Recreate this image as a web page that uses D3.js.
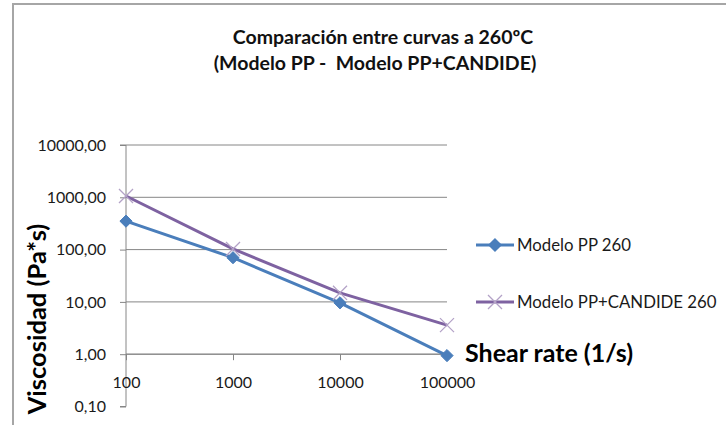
<!DOCTYPE html>
<html>
<head>
<meta charset="utf-8">
<script src="https://cdn.jsdelivr.net/npm/d3@7"></script>
<style>
  html, body { margin: 0; padding: 0; background: #fff; }
  svg { display: block; font-family: Lato, "Open Sans", sans-serif; }
</style>
</head>
<body>
<svg id="chart" width="726" height="425"></svg>
<script>
// Shear rate categories (1/s)
const shearRates = ["100", "1000", "10000", "100000"];
// Viscosity (Pa*s) for each model at 260 ºC
const ppValues = [350, 70, 9.6, 0.94];
const candideValues = [1060, 103, 14.9, 3.6];
// Log-scale tick values for the viscosity axis
const yTicks = [0.1, 1, 10, 100, 1000, 10000];
const seriesNames = ["Modelo PP 260", "Modelo PP+CANDIDE 260"];

const svg = d3.select("#chart");
const W = 726, H = 425;

// outer chart frame
svg.append("path")
  .attr("d", `M13,${H} V4 H${W}`)
  .attr("fill", "none").attr("stroke", "#a6a6a6").attr("stroke-width", 2);

const plot = { left: 126, right: 447, top: 145, bottom: 406.5 };

const x = d3.scalePoint().domain(shearRates).range([plot.left, plot.right]);
const y = d3.scaleLog().domain([0.1, 10000]).range([plot.bottom, plot.top]);

const fmt = v => d3.format(".2f")(v).replace(".", ",");

// horizontal gridlines
svg.append("g").selectAll("line").data(yTicks.filter(v => v > 0.1)).join("line")
  .attr("x1", plot.left).attr("x2", plot.right)
  .attr("y1", d => y(d)).attr("y2", d => y(d))
  .attr("stroke", "#868686").attr("stroke-width", 1);

// y axis
const yAxis = d3.axisLeft(y).tickValues(yTicks).tickFormat(fmt).tickSize(6).tickPadding(14);
const gy = svg.append("g").attr("transform", `translate(${plot.left},0)`).call(yAxis);
gy.select(".domain").attr("stroke", "#868686").attr("d", `M-6,${plot.bottom}H0V${plot.top}H-6`);
gy.selectAll(".tick line").attr("stroke", "#868686");
gy.selectAll(".tick text").attr("fill", "#1a1a1a").style("font-size", "16px")
  .style("font-family", "Lato, sans-serif");

// x axis crossing at viscosity 1
const xAxis = d3.axisBottom(x).tickSize(6).tickPadding(16);
const gx = svg.append("g").attr("transform", `translate(0,${y(1)})`).call(xAxis);
gx.select(".domain").attr("stroke", "#868686").attr("d", `M${plot.left},0H${plot.right}`);
gx.selectAll(".tick line").attr("stroke", "#868686");
gx.selectAll(".tick text").attr("fill", "#1a1a1a").style("font-size", "16px")
  .style("font-family", "Lato, sans-serif");

const line = d3.line().x((d, i) => x(shearRates[i])).y(d => y(d));

// PP series
svg.append("path").datum(ppValues).attr("d", line)
  .attr("fill", "none").attr("stroke", "#4a7ebb").attr("stroke-width", 3).attr("stroke-linejoin", "round");
const diamond = d3.symbol().type(d3.symbolDiamond2).size(95);
svg.append("g").selectAll("path").data(ppValues).join("path")
  .attr("transform", (d, i) => `translate(${x(shearRates[i])},${y(d)})`)
  .attr("d", diamond).attr("fill", "#4a7ebb").attr("stroke", "#4a7ebb").attr("stroke-width", 1);

// PP+CANDIDE series
svg.append("path").datum(candideValues).attr("d", line)
  .attr("fill", "none").attr("stroke", "#7e62a1").attr("stroke-width", 3).attr("stroke-linejoin", "round");
const cross = d3.symbol().type(d3.symbolX).size(130);
svg.append("g").selectAll("path").data(candideValues).join("path")
  .attr("transform", (d, i) => `translate(${x(shearRates[i])},${y(d)})`)
  .attr("d", cross).attr("fill", "none").attr("stroke", "#b3a2c7").attr("stroke-width", 1.3);

// title
const title = svg.append("text").attr("text-anchor", "middle")
  .style("white-space", "pre")
  .style("font-size", "19.5px").style("font-weight", "bold").attr("fill", "#111");
title.append("tspan").attr("x", 383).attr("y", 44).text("Comparación entre curvas a 260ºC");
title.append("tspan").attr("x", 375).attr("y", 70).text("(Modelo PP -  Modelo PP+CANDIDE)");

// axis titles
svg.append("text")
  .attr("transform", `translate(46,319) rotate(-90)`)
  .attr("text-anchor", "middle")
  .style("font-size", "25.5px").style("font-weight", "bold").attr("fill", "#000")
  .text("Viscosidad (Pa*s)");
svg.append("text").attr("x", 465).attr("y", 362)
  .style("font-size", "25px").style("font-weight", "bold").attr("fill", "#000")
  .text("Shear rate (1/s)");

// legend
const legend = svg.append("g");
const legendY = [245, 302];
legendY.forEach((ly, i) => {
  legend.append("line").attr("x1", 476).attr("x2", 514).attr("y1", ly).attr("y2", ly)
    .attr("stroke", i === 0 ? "#4a7ebb" : "#7e62a1").attr("stroke-width", 3);
  legend.append("path").attr("transform", `translate(495,${ly})`)
    .attr("d", i === 0 ? diamond : cross)
    .attr("fill", i === 0 ? "#4a7ebb" : "none")
    .attr("stroke", i === 0 ? "#4a7ebb" : "#b3a2c7").attr("stroke-width", 1.3);
  legend.append("text").attr("x", 517).attr("y", ly + 6)
    .style("font-size", "16.8px").attr("fill", "#1a1a1a").text(seriesNames[i]);
});
</script>
</body>
</html>
